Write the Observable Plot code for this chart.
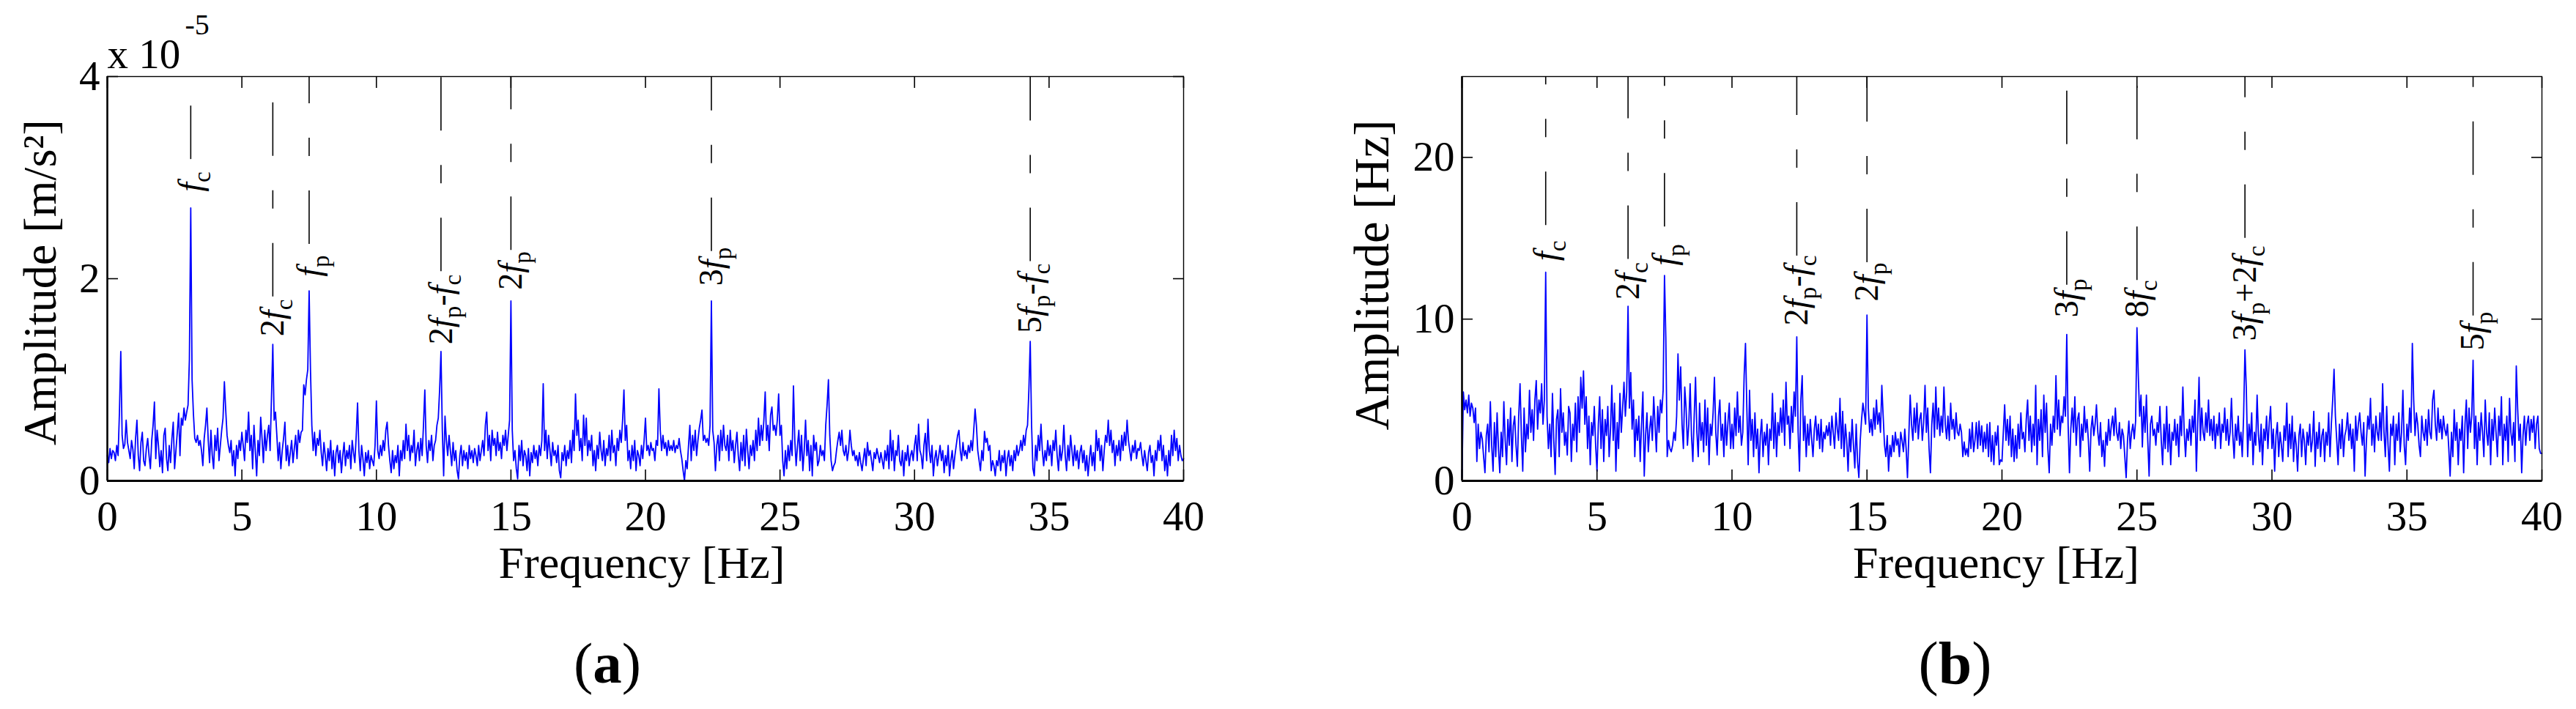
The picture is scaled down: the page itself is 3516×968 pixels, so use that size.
<!DOCTYPE html>
<html><head><meta charset="utf-8">
<script src="https://cdn.jsdelivr.net/npm/d3@7"></script>
<script src="https://cdn.jsdelivr.net/npm/@observablehq/plot@0.6"></script>
<style>
html,body{margin:0;padding:0;background:#fff;}
#root{position:relative;width:3516px;height:968px;overflow:hidden;background:#fff;}
#root svg{position:absolute;top:0;}
#root svg, #root svg text, #root svg tspan{font-family:"Liberation Serif","Times New Roman",serif !important;}
</style></head><body><div id="root"></div>
<script>
// ---- data ----
const freqStep = 0.05;            // Hz between spectrum samples (0 .. 40 Hz)
const xTicks = [0, 5, 10, 15, 20, 25, 30, 35, 40];
const yTicksA = [0, 2, 4];
const yTicksB = [0, 10, 20];

// panel (a) amplitude, units of 1e-5 m/s^2, one row per Hz (20 samples)
const ampA = [
0.25,0.18,0.32,0.22,0.30,0.28,0.20,0.35,0.25,0.68,1.28,0.45,0.32,0.36,0.60,0.38,0.30,0.22,0.40,0.31,
0.12,0.42,0.60,0.25,0.10,0.38,0.48,0.20,0.15,0.32,0.42,0.25,0.12,0.40,0.55,0.78,0.22,0.50,0.35,0.14,
0.30,0.08,0.45,0.52,0.22,0.10,0.35,0.18,0.42,0.58,0.12,0.30,0.48,0.67,0.25,0.62,0.55,0.72,0.60,0.68,
0.75,1.20,2.70,1.00,0.66,0.42,0.38,0.45,0.35,0.40,0.30,0.15,0.42,0.55,0.72,0.40,0.18,0.50,0.25,0.12,
0.45,0.30,0.52,0.20,0.35,0.50,0.62,0.98,0.70,0.45,0.35,0.28,0.40,0.15,0.30,0.05,0.35,0.22,0.40,0.30,
0.48,0.35,0.20,0.50,0.38,0.68,0.30,0.45,0.12,0.55,0.30,0.05,0.40,0.25,0.63,0.42,0.18,0.50,0.30,0.45,
0.55,0.30,0.82,1.35,0.60,0.68,0.45,0.20,0.38,0.12,0.30,0.42,0.58,0.20,0.35,0.15,0.28,0.40,0.18,0.32,
0.45,0.22,0.50,0.38,0.48,0.50,0.95,0.85,1.00,1.10,1.88,1.10,0.55,0.30,0.48,0.25,0.42,0.35,0.50,0.28,
0.15,0.38,0.25,0.10,0.32,0.20,0.40,0.12,0.30,0.05,0.28,0.35,0.18,0.30,0.08,0.25,0.38,0.15,0.30,0.22,
0.35,0.12,0.40,0.28,0.18,0.45,0.77,0.30,0.10,0.35,0.22,0.05,0.28,0.18,0.30,0.12,0.25,0.20,0.15,0.35,
0.79,0.30,0.22,0.35,0.25,0.40,0.30,0.50,0.58,0.35,0.20,0.08,0.30,0.12,0.25,0.18,0.35,0.05,0.30,0.20,
0.40,0.22,0.56,0.30,0.45,0.20,0.35,0.28,0.50,0.15,0.30,0.38,0.20,0.42,0.25,0.55,0.90,0.35,0.18,0.40,
0.30,0.45,0.20,0.35,0.40,0.55,0.62,0.90,1.28,0.50,0.05,0.64,0.40,0.25,0.45,0.30,0.15,0.38,0.20,0.30,
0.10,0.02,0.25,0.35,0.15,0.30,0.20,0.28,0.12,0.35,0.22,0.30,0.18,0.32,0.25,0.15,0.35,0.20,0.30,0.40,
0.25,0.55,0.68,0.30,0.45,0.20,0.50,0.35,0.42,0.25,0.48,0.30,0.38,0.22,0.45,0.35,0.50,0.30,0.45,0.60,
1.78,0.50,0.20,0.30,0.12,0.02,0.35,0.20,0.40,0.15,0.30,0.25,0.10,0.32,0.05,0.28,0.18,0.35,0.22,0.30,
0.15,0.35,0.25,0.40,0.96,0.30,0.50,0.22,0.45,0.30,0.15,0.38,0.25,0.30,0.18,0.35,0.10,0.03,0.28,0.20,
0.35,0.15,0.30,0.22,0.40,0.18,0.50,0.30,0.86,0.45,0.60,0.30,0.42,0.20,0.65,0.35,0.62,0.25,0.40,0.30,
0.45,0.15,0.30,0.10,0.35,0.22,0.48,0.30,0.20,0.40,0.15,0.32,0.25,0.45,0.20,0.50,0.28,0.35,0.15,0.42,
0.30,0.50,0.38,0.60,0.90,0.40,0.55,0.20,0.30,0.12,0.35,0.20,0.40,0.10,0.30,0.25,0.15,0.35,0.22,0.40,
0.62,0.30,0.35,0.25,0.38,0.30,0.32,0.20,0.40,0.35,0.91,0.50,0.30,0.45,0.32,0.38,0.25,0.40,0.30,0.35,
0.30,0.40,0.28,0.35,0.32,0.42,0.30,0.22,0.10,0.00,0.20,0.12,0.35,0.55,0.20,0.45,0.30,0.50,0.25,0.40,
0.52,0.60,0.70,0.40,0.45,0.38,0.42,0.35,0.55,1.78,0.50,0.38,0.10,0.35,0.45,0.20,0.50,0.30,0.55,0.35,
0.30,0.45,0.20,0.50,0.30,0.40,0.18,0.35,0.48,0.25,0.10,0.38,0.20,0.45,0.15,0.51,0.30,0.12,0.35,0.25,
0.40,0.20,0.50,0.30,0.62,0.35,0.55,0.40,0.60,0.88,0.40,0.55,0.30,0.65,0.73,0.50,0.55,0.45,0.60,0.86,
0.45,0.55,0.20,0.05,0.30,0.12,0.35,0.20,0.40,0.25,0.94,0.40,0.15,0.35,0.50,0.20,0.45,0.10,0.30,0.60,
0.25,0.40,0.10,0.35,0.05,0.45,0.30,0.38,0.15,0.20,0.35,0.25,0.30,0.20,0.55,0.75,1.00,0.45,0.20,0.10,
0.15,0.18,0.30,0.40,0.48,0.35,0.50,0.30,0.25,0.35,0.20,0.30,0.50,0.35,0.25,0.30,0.20,0.25,0.15,0.28,
0.18,0.10,0.22,0.32,0.15,0.38,0.25,0.30,0.20,0.10,0.28,0.22,0.32,0.25,0.18,0.28,0.20,0.12,0.30,0.20,
0.35,0.12,0.50,0.20,0.40,0.10,0.30,0.25,0.45,0.20,0.15,0.30,0.05,0.28,0.20,0.35,0.15,0.25,0.30,0.20,
0.35,0.45,0.20,0.56,0.30,0.25,0.12,0.35,0.47,0.20,0.61,0.30,0.18,0.35,0.05,0.22,0.30,0.15,0.25,0.35,
0.20,0.30,0.08,0.25,0.15,0.35,0.05,0.20,0.30,0.12,0.25,0.35,0.45,0.50,0.30,0.20,0.38,0.25,0.30,0.22,
0.35,0.28,0.40,0.30,0.50,0.71,0.55,0.30,0.20,0.10,0.30,0.20,0.49,0.38,0.42,0.30,0.35,0.10,0.20,0.15,
0.05,0.20,0.15,0.30,0.10,0.25,0.18,0.30,0.05,0.22,0.30,0.15,0.25,0.10,0.30,0.20,0.35,0.25,0.30,0.40,
0.30,0.45,0.35,0.50,0.55,0.90,1.38,0.55,0.12,0.05,0.35,0.20,0.45,0.30,0.56,0.30,0.15,0.30,0.20,0.40,
0.25,0.35,0.15,0.40,0.30,0.50,0.25,0.10,0.35,0.20,0.30,0.55,0.25,0.10,0.35,0.20,0.45,0.30,0.15,0.35,
0.20,0.30,0.12,0.28,0.35,0.18,0.30,0.10,0.25,0.05,0.22,0.35,0.15,0.28,0.10,0.50,0.30,0.42,0.20,0.35,
0.10,0.30,0.45,0.38,0.60,0.35,0.50,0.28,0.40,0.15,0.35,0.25,0.40,0.20,0.45,0.30,0.48,0.35,0.60,0.40,
0.30,0.20,0.35,0.28,0.40,0.22,0.32,0.30,0.38,0.25,0.15,0.30,0.20,0.10,0.28,0.35,0.18,0.25,0.05,0.30,
0.20,0.40,0.30,0.45,0.20,0.35,0.10,0.25,0.05,0.30,0.15,0.45,0.25,0.50,0.30,0.42,0.20,0.35,0.25,0.20,
0.22
];

// panel (b) amplitude, one row per Hz (20 samples)
const ampB = [
0.2,5.5,4.4,5.0,4.2,5.3,4.0,4.8,4.5,3.6,4.5,1.2,3.5,2.0,3.0,2.6,1.5,0.5,2.8,3.5,
1.8,4.9,2.2,0.6,3.6,1.5,4.2,2.0,0.5,3.0,1.5,4.9,2.5,1.0,3.8,2.2,4.5,1.2,3.4,4.0,
2.2,0.9,4.0,6.0,2.8,0.6,4.5,1.8,3.5,2.6,5.6,3.0,4.4,2.5,5.0,6.2,3.2,5.0,4.2,6.0,
3.5,5.0,12.9,4.0,2.0,3.5,1.5,5.4,2.5,0.4,3.8,4.4,1.5,5.7,3.0,4.2,2.2,3.0,1.6,4.6,
4.2,1.2,3.5,2.5,4.8,1.8,5.2,3.0,6.4,4.5,6.8,3.5,5.2,2.0,4.0,1.0,3.6,2.8,4.6,2.2,
0.6,3.5,5.2,2.0,4.4,1.2,3.8,2.8,4.6,1.5,3.2,5.9,2.5,4.8,0.6,3.6,2.0,5.4,3.0,4.5,
6.1,4.0,5.5,10.8,4.5,6.7,3.2,5.0,1.5,3.8,2.5,4.0,1.2,3.5,5.5,0.3,2.8,4.2,1.8,3.2,
4.0,2.5,5.2,3.5,1.8,4.6,3.0,5.0,4.2,5.6,12.7,8.8,1.5,2.5,2.0,1.8,2.2,3.0,2.5,4.0,
7.85,5.0,7.05,3.5,2.0,5.8,4.5,2.2,3.5,6.0,2.8,1.2,4.0,6.4,3.0,1.5,4.8,2.5,3.6,1.8,
5.0,2.2,4.5,1.0,3.5,2.8,4.2,6.4,3.0,1.6,4.0,5.0,2.5,3.5,1.5,4.2,2.2,3.6,4.8,2.0,
3.5,2.0,4.5,2.8,5.5,3.0,4.0,2.2,3.0,6.5,8.5,4.5,1.0,5.6,2.5,3.8,1.5,4.2,2.0,3.2,
0.5,2.8,3.8,1.5,3.0,2.2,3.5,1.0,3.2,2.5,5.4,2.0,4.2,1.5,3.6,2.8,4.5,3.0,5.0,2.2,
6.1,3.5,4.0,2.0,4.6,3.0,5.5,4.0,8.9,3.0,0.6,5.0,6.5,2.5,4.0,1.5,3.5,2.2,3.8,2.6,
1.5,3.2,4.0,2.5,3.5,2.0,3.8,1.8,3.0,2.6,3.4,2.8,3.6,2.2,4.0,3.0,2.0,4.2,3.2,2.5,
5.1,2.0,4.3,1.5,3.5,2.5,0.6,3.0,1.8,3.8,2.2,0.8,3.5,1.2,0.2,2.5,3.8,4.8,4.2,3.5,
10.25,4.5,3.0,3.8,2.8,4.5,3.2,5.0,3.5,4.2,3.0,5.9,4.0,2.2,1.5,2.8,0.6,2.2,1.5,2.8,
1.8,3.0,2.2,2.6,1.5,3.0,2.5,1.8,3.2,2.0,0.2,2.8,5.3,3.5,2.5,4.5,3.0,4.8,2.6,3.8,
4.2,2.5,3.6,5.9,3.0,4.5,2.0,0.5,3.5,4.8,2.7,5.8,3.2,4.5,2.8,4.0,3.0,5.8,3.5,2.6,
4.0,2.5,4.8,3.2,3.8,2.6,4.2,3.0,2.8,3.5,3.0,1.5,2.4,1.6,2.0,1.5,3.2,2.0,3.6,1.8,
2.5,3.6,2.0,3.7,2.2,3.4,1.8,3.0,2.0,3.5,1.5,3.6,1.2,2.8,1.0,3.0,2.2,3.4,1.0,1.3,
1.2,3.0,4.7,2.5,3.8,2.2,4.0,1.5,3.2,1.2,2.8,1.4,3.5,2.0,4.2,2.6,3.0,1.8,3.8,5.0,
2.5,4.0,1.8,3.5,2.2,5.9,1.0,3.8,2.5,4.4,1.5,5.3,3.0,4.8,2.0,0.5,3.5,2.2,4.0,3.0,
6.5,3.2,5.0,2.8,4.0,3.6,5.2,4.0,9.05,3.5,0.5,3.2,4.5,3.0,5.2,2.2,3.8,4.2,1.5,3.5,
2.5,4.6,3.0,3.8,2.5,0.6,3.2,4.0,2.8,3.5,4.7,3.0,2.2,3.6,1.5,2.5,0.9,3.0,2.2,3.8,
2.5,3.4,4.0,2.8,4.5,3.0,2.5,3.6,2.0,3.2,2.8,1.5,0.2,2.5,3.7,2.0,3.0,3.5,2.6,3.7,
9.47,6.5,4.0,5.3,2.1,4.6,3.0,5.3,2.5,0.3,3.5,4.0,2.8,3.2,2.2,3.6,3.0,4.6,2.5,1.0,
3.5,2.0,4.6,1.8,3.5,1.0,3.0,2.5,3.8,2.2,3.5,1.5,4.0,2.8,5.8,3.0,1.5,3.2,2.5,3.8,
2.2,4.0,3.0,5.0,0.6,3.5,6.4,2.5,4.5,3.0,2.5,4.2,3.0,5.0,2.8,3.8,2.5,4.0,2.0,3.5,
2.8,4.2,2.0,3.5,3.0,4.5,2.5,3.8,2.2,3.0,5.1,2.8,1.4,3.5,2.5,4.0,2.2,3.0,1.5,4.0,
8.1,5.7,1.5,3.5,2.5,4.2,1.0,3.0,2.2,5.3,2.8,1.8,3.5,1.0,3.2,2.5,4.0,2.0,3.6,4.6,
2.0,3.2,0.6,2.8,3.6,1.5,3.0,2.2,1.2,3.4,2.5,4.8,1.5,3.5,2.0,4.0,1.2,3.0,2.2,0.6,
2.8,3.5,1.5,3.2,2.5,1.0,3.0,2.2,3.5,1.8,2.5,4.3,0.9,3.0,2.0,3.6,1.5,2.8,3.2,1.2,
3.0,2.2,4.2,1.5,3.5,5.0,6.9,4.0,2.5,1.0,3.5,2.0,3.8,1.5,2.8,3.2,4.2,2.5,3.5,2.0,
3.2,0.6,4.0,2.5,3.5,4.2,3.0,2.2,3.6,0.3,2.5,4.0,3.2,5.1,2.2,3.5,1.8,4.0,3.0,2.5,
4.2,2.5,6.0,3.0,1.5,4.6,2.2,0.6,3.5,2.8,4.0,1.0,3.5,2.5,4.2,1.8,3.0,5.6,2.2,1.0,
3.5,2.5,4.5,3.0,8.5,5.0,2.8,4.2,3.5,2.2,1.5,4.0,3.0,2.5,3.8,2.2,4.4,3.0,2.6,5.0,
5.6,3.5,2.5,4.5,3.0,3.8,2.6,4.0,3.2,2.8,3.5,2.0,0.3,3.0,1.5,4.4,2.5,3.6,1.0,3.2,
2.5,4.0,0.5,3.5,5.0,2.0,4.5,3.0,4.0,7.46,2.0,4.0,1.0,3.6,2.5,4.2,3.0,1.5,5.0,3.0,
2.2,4.2,1.0,3.8,2.5,4.5,3.0,1.5,4.0,2.8,5.2,1.0,3.5,2.5,4.0,1.2,5.1,3.0,2.2,3.6,
1.2,7.1,4.5,2.5,3.5,0.5,2.8,4.0,2.2,3.5,4.0,2.5,3.8,3.0,4.0,2.0,3.5,4.0,2.0,1.7,
1.7
];

// annotated components
const peakFreqA  = [3.1, 6.15, 7.5, 12.4, 15.0, 22.45, 34.3];
const peakLabelA = ["f_c", "2f_c", "f_p", "2f_p-f_c", "2f_p", "3f_p", "5f_p-f_c"];
const lineEndA   = [3.18, 1.82, 2.34, 2.07, 2.28, 2.27, 2.17];
const labelBaseA = [2.86, 1.43, 2.02, 1.35, 1.89, 1.93, 1.46];

const peakFreqB  = [3.1, 6.15, 7.5, 12.4, 15.0, 22.4, 25.0, 29.0, 37.45];
const peakLabelB = ["f_c", "2f_c", "f_p", "2f_p-f_c", "2f_p", "3f_p", "8f_c", "3f_p+2f_c", "5f_p"];
const lineEndB   = [15.8, 13.7, 15.7, 13.9, 13.5, 12.1, 12.4, 15.0, 10.2];
const labelBaseB = [13.6, 11.2, 13.3, 9.6, 11.1, 10.1, 10.1, 8.65, 8.06];

// ---- rendering ----
const FONT = "Liberation Serif, Times New Roman, serif";
const LABEL_SIZE = 48;
const NS = "http://www.w3.org/2000/svg";

function tspan(el, txt, attrs) {
  const t = document.createElementNS(NS, "tspan");
  for (const k in attrs) t.setAttribute(k, attrs[k]);
  t.textContent = txt;
  el.appendChild(t);
}
function richLabel(el, str, size) {
  el.textContent = "";
  el.setAttribute("font-size", size);
  const sub = 0.26 * size;
  let shifted = false;
  for (let i = 0; i < str.length; i++) {
    const c = str[i];
    if (c === "f" && str[i + 1] === "_") {
      const a = {"font-style": "italic"};
      if (shifted) a.dy = -sub;
      tspan(el, "f", a);
      tspan(el, str[i + 2], {"font-size": 0.72 * size, dy: sub});
      shifted = true;
      i += 2;
    } else {
      const a = {};
      if (shifted) a.dy = -sub;
      tspan(el, c, a);
      shifted = false;
    }
  }
}
// scale a text's font so that its rendered length matches the reference length (px)
function fit(el, target) {
  const L = el.getComputedTextLength();
  if (!L) return;
  const fs = parseFloat(getComputedStyle(el).fontSize);
  el.setAttribute("font-size", fs * target / L);
}

function makePanel(cfg) {
  const spec = cfg.amp.map((a, i) => ({f: i * freqStep, a}));
  const ann = cfg.freqs.map((f, i) => ({f, label: cfg.labels[i], lineEnd: cfg.lineEnd[i], base: cfg.base[i]}));
  const yMax = cfg.yMax;
  const marks = [
    Plot.line(spec, {x: "f", y: "a", stroke: "#0000ff", strokeWidth: 1.8}),
    Plot.ruleX(ann, {x: "f", y1: "lineEnd", y2: () => yMax, stroke: "#000", strokeWidth: 1.6, strokeDasharray: "73,47,25,47"}),
    Plot.text(ann, {x: "f", y: "base", text: "label", rotate: -90, textAnchor: "start", lineAnchor: "middle",
                    fontSize: LABEL_SIZE, fill: "#000"}),
    Plot.frame({stroke: "#000", strokeWidth: 1.4}),
    Plot.ruleY([0], {stroke: "#000", strokeWidth: 3}),
    Plot.ruleX([0], {stroke: "#000", strokeWidth: 2.5}),
    Plot.axisX({ticks: xTicks, anchor: "bottom", tickSize: -15, tickPadding: 42, tickFormat: d => String(d), fontSize: 57, label: null, strokeWidth: 1.6}),
    Plot.axisX({ticks: xTicks, anchor: "top", tickSize: -15, tickFormat: () => "", label: null, strokeWidth: 1.6}),
    Plot.axisY({ticks: cfg.yTicks, anchor: "left", tickSize: -15, tickPadding: 25, tickFormat: d => String(d), fontSize: 57, label: null, strokeWidth: 1.6}),
    Plot.axisY({ticks: cfg.yTicks, anchor: "right", tickSize: -15, tickFormat: () => "", label: null, strokeWidth: 1.6}),
    Plot.text(["Frequency [Hz]"], {text: d => d, frameAnchor: "bottom", textAnchor: "middle", dx: cfg.xLabelDx, dy: 113, fontSize: 62, lineAnchor: "middle", fill: "#000"}),
    Plot.text([cfg.yLabel], {text: d => d, frameAnchor: "left", textAnchor: "middle", rotate: -90, dx: cfg.yLabelDx, dy: cfg.yLabelDy, fontSize: 62, lineAnchor: "middle", fill: "#000"}),
    Plot.text([cfg.tag], {text: d => d, frameAnchor: "bottom", textAnchor: "middle", dx: cfg.tagDx, dy: 250, fontSize: 80, lineAnchor: "middle", fill: "#000"})
  ];
  if (cfg.exponent) {
    marks.push(Plot.text(["x 10"], {text: d => d, frameAnchor: "top-left", textAnchor: "start", dx: 0, dy: -30, fontSize: 57, lineAnchor: "middle", fill: "#000"}));
    marks.push(Plot.text(["-5"], {text: d => d, frameAnchor: "top-left", textAnchor: "start", dx: 106, dy: -70, fontSize: 40, lineAnchor: "middle", fill: "#000"}));
  }
  const svg = Plot.plot({
    width: 1758, height: 968,
    marginLeft: cfg.marginLeft, marginRight: cfg.marginRight, marginTop: 104, marginBottom: 312,
    x: {domain: [0, 40]},
    y: {domain: [0, yMax]},
    style: {fontFamily: FONT, background: "white", color: "black", overflow: "visible"},
    marks
  });
  svg.style.left = cfg.left + "px";
  root.appendChild(svg);

  // typeset labels: f_x -> italic f with subscript x ; (a) -> bold letter
  const peakEls = [];
  svg.querySelectorAll("text").forEach((el) => {
    const s = el.textContent;
    if (s.includes("f_")) { peakEls.push([el, s]); richLabel(el, s, LABEL_SIZE); }
    else if (/^\([ab]\)$/.test(s)) {
      el.textContent = "";
      tspan(el, "(", {});
      tspan(el, s[1], {"font-weight": "bold"});
      tspan(el, ")", {});
      fit(el, cfg.tagLen);
    }
    else if (s === "Frequency [Hz]") fit(el, 391);
    else if (s.startsWith("Amplitude")) fit(el, cfg.yLabelLen);
  });
  // one common size for the peak labels, matched to the reference's total label length
  const total = peakEls.reduce((t, [el]) => t + el.getComputedTextLength(), 0);
  if (total > 0) {
    const size = LABEL_SIZE * cfg.peakLabelLen / total;
    peakEls.forEach(([el, s]) => richLabel(el, s, size));
  }
  return svg;
}

const root = document.getElementById("root");
makePanel({
  amp: ampA, freqs: peakFreqA, labels: peakLabelA, lineEnd: lineEndA, base: labelBaseA,
  yMax: 4, yTicks: yTicksA, yLabel: "Amplitude [m/s²]", yLabelDx: -91, yLabelDy: 5, yLabelLen: 445,
  xLabelDx: -5, tag: "(a)", tagDx: -52, tagLen: 92, peakLabelLen: 403,
  marginLeft: 146, marginRight: 143, left: 0, exponent: true
});
makePanel({
  amp: ampB, freqs: peakFreqB, labels: peakLabelB, lineEnd: lineEndB, base: labelBaseB,
  yMax: 25, yTicks: yTicksB, yLabel: "Amplitude [Hz]", yLabelDx: -122, yLabelDy: -5, yLabelLen: 424,
  xLabelDx: -8, tag: "(b)", tagDx: -64, tagLen: 100, peakLabelLen: 544,
  marginLeft: 237, marginRight: 47, left: 1758, exponent: false
});
</script>
</body></html>
